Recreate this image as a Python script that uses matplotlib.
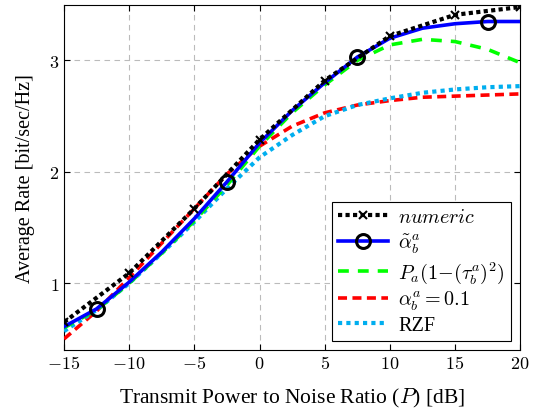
import numpy as np
import matplotlib
matplotlib.use('Agg')
import matplotlib.pyplot as plt

plt.rcParams['font.family'] = 'Liberation Serif'
plt.rcParams['mathtext.fontset'] = 'cm'

# transmit power to noise ratio [dB]
snr = [-15, -12.5, -10, -7.5, -5, -2.5, 0, 2.5, 5, 7.5, 10, 12.5, 15, 17.5, 20]
snr_num = [-15, -10, -5, 0, 5, 10, 15, 20]

rate_numeric = [0.65, 1.09, 1.67, 2.29, 2.82, 3.22, 3.41, 3.48]
rate_alpha_opt = [0.61, 0.77, 1.01, 1.28, 1.58, 1.91, 2.26, 2.55, 2.80, 3.03, 3.20, 3.29, 3.33, 3.35, 3.35]
rate_tau = [0.60, 0.76, 1.00, 1.27, 1.56, 1.88, 2.23, 2.53, 2.78, 3.00, 3.14, 3.19, 3.17, 3.10, 2.98]
rate_alpha01 = [0.50, 0.75, 1.05, 1.36, 1.67, 1.98, 2.23, 2.41, 2.53, 2.60, 2.64, 2.67, 2.68, 2.69, 2.70]
rate_rzf = [0.57, 0.76, 1.00, 1.27, 1.55, 1.85, 2.13, 2.33, 2.50, 2.60, 2.66, 2.71, 2.74, 2.76, 2.77]

fig = plt.figure(figsize=(5.47, 4.14), dpi=100)
ax = fig.add_axes([0.117, 0.152, 0.834, 0.834])

ax.plot(snr_num, rate_numeric, color='black', ls=(0, (1, 0.8)), lw=3,
        marker='x', ms=6, mew=1.5, label=r'$\mathit{numeric}$', zorder=6)
ax.plot(snr, rate_alpha_opt, color='blue', lw=2.6, marker='o', ms=10,
        mfc='none', mec='black', mew=2.2, markevery=[1, 5, 9, 13],
        label=r'$\tilde{\alpha}_b^a$', zorder=5)
ax.plot(snr, rate_tau, color='#00ff00', ls=(0, (3, 2.5)), lw=2.6,
        label=r'$P_a(1{-}(\tau_b^a)^2)$', zorder=4)
ax.plot(snr, rate_alpha01, color='red', ls=(0, (2.5, 1.5)), lw=2.6,
        label=r'$\alpha_b^a = 0.1$', zorder=3)
ax.plot(snr, rate_rzf, color='#00aeef', ls=(0, (1, 1)), lw=3,
        label='RZF', zorder=3)

ax.set_xlim(-15, 20)
ax.set_ylim(0.4, 3.5)
ax.set_xticks([-15, -10, -5, 0, 5, 10, 15, 20])
ax.set_xticklabels([r'$-15$', r'$-10$', r'$-5$', r'$0$', r'$5$', r'$10$', r'$15$', r'$20$'])
ax.set_yticks([1, 2, 3])
ax.set_yticklabels([r'$1$', r'$2$', r'$3$'])
ax.tick_params(direction='in', top=True, right=True, labelsize=13, length=4)
ax.grid(True, color='#bbbbbb', ls=(0, (5, 4)), lw=0.8)
ax.set_xlabel(r'Transmit Power to Noise Ratio ($P$) [dB]', fontsize=15.5, labelpad=10)
ax.set_ylabel('Average Rate [bit/sec/Hz]', fontsize=14.5, labelpad=10)

leg = ax.legend(loc='lower right', fontsize=14.5, fancybox=False, edgecolor='black',
                framealpha=1, handlelength=2.5, borderpad=0.3, labelspacing=0.2,
                handletextpad=0.5, numpoints=1, borderaxespad=0,
                bbox_to_anchor=(0.98, 0.026))
leg.get_frame().set_linewidth(0.8)

fig.savefig('out.png', dpi=100)
